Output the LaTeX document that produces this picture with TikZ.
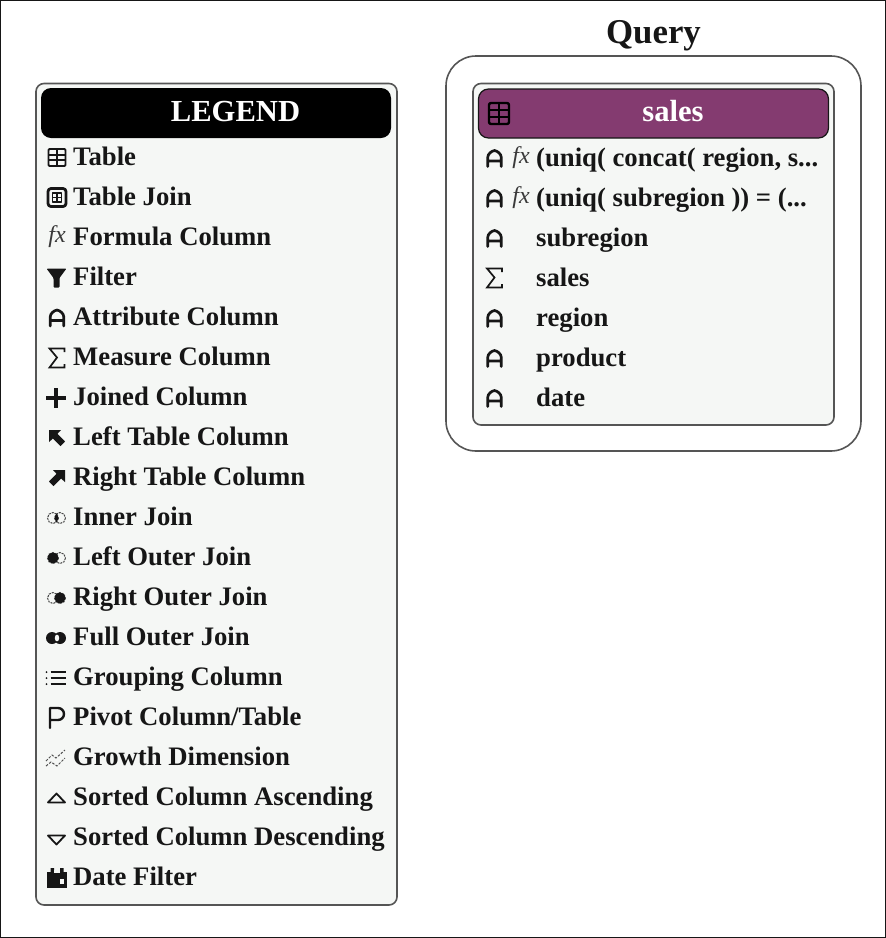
\documentclass[tikz,border=0pt]{standalone}
\usepackage{fontspec}
\setmainfont{Liberation Serif}
\definecolor{panelfill}{HTML}{F5F7F5}
\definecolor{edgegray}{HTML}{555555}
\definecolor{salesplum}{HTML}{843B70}
\definecolor{inkblack}{HTML}{161616}
\tikzset{
  x=1pt,y=-1pt,
  panel/.style={draw=edgegray,line width=1.6pt,fill=panelfill,rounded corners=8pt},
  outerpanel/.style={draw=edgegray,line width=1.6pt,fill=white,rounded corners=30pt},
  headbox/.style={draw=inkblack,line width=1.2pt,rounded corners=10pt},
  rowtext/.style={anchor=base west,inner sep=0pt,font=\fontsize{26.7}{28}\selectfont\bfseries,text=inkblack},
  headtext/.style={anchor=base,inner sep=0pt,font=\fontsize{30.6}{32}\selectfont\bfseries,text=white},
  ico/.style={line width=1.8pt,draw=inkblack,line cap=round,line join=round},
  fxtext/.style={inner sep=0pt,font=\fontsize{24}{24}\selectfont\itshape,text=inkblack!85},
}
% every icon is drawn round its centre (#1,#2)
\newcommand{\icoTable}[2]{\begin{scope}[shift={(#1,#2)}]
  \draw[ico,rounded corners=1pt] (-8.5,-8.5) rectangle (8.5,8.5);
  \draw[ico,line cap=butt] (-8.5,-2.8)--(8.5,-2.8) (-8.5,2.8)--(8.5,2.8) (0,-8.5)--(0,8.5);
\end{scope}}
\newcommand{\icoTableBig}[2]{\begin{scope}[shift={(#1,#2)}]
  \draw[ico,line width=2.4pt,draw=black,rounded corners=2pt] (-10,-10.5) rectangle (10,10.5);
  \draw[ico,line width=1.8pt,draw=black,line cap=butt] (-10,-3.5)--(10,-3.5) (-10,3.5)--(10,3.5) (0,-10.5)--(0,10.5);
\end{scope}}
\newcommand{\icoJoin}[2]{\begin{scope}[shift={(#1,#2)}]
  \draw[ico,line width=2.8pt,rounded corners=3pt] (-9,-9) rectangle (9,9);
  \draw[ico,line width=1.2pt,line cap=butt] (-4.5,-4.5) rectangle (4.5,4.5) (-4.5,0)--(4.5,0) (0,-4.5)--(0,4.5);
\end{scope}}
\newcommand{\icoFx}[2]{\node[fxtext] at (#1,#2) {fx};}
\newcommand{\icoFilter}[2]{\begin{scope}[shift={(#1,#2)}]
  \fill[inkblack,rounded corners=1pt] (-10,-9.5)--(10,-9.5)--(3,0)--(3,9.5)--(-3,9.5)--(-3,0)--cycle;
\end{scope}}
\newcommand{\icoAttr}[2]{\begin{scope}[shift={(#1,#2)}]
  \draw[ico,line width=2.7pt] (-6.8,8)--(-6.8,-1) .. controls (-6.8,-4.5) and (-3,-7.5) .. (0,-8) .. controls (3,-7.5) and (6.8,-4.5) .. (6.8,-1) --(6.8,8) (-6.8,2.5)--(6.8,2.5);
\end{scope}}
\newcommand{\icoSigma}[2]{\begin{scope}[shift={(#1,#2)}]
  \draw[ico,line width=1.7pt,line cap=butt,line join=miter] (7.5,-6)--(7.5,-9.5)--(-7.5,-9.5)--(0,-0.5)--(-7.5,9.5)--(7.5,9.5)--(7.5,6);
\end{scope}}
\newcommand{\icoPlus}[2]{\begin{scope}[shift={(#1,#2)}]
  \draw[ico,line width=3.4pt,line cap=butt] (-10,0)--(10,0) (0,-10)--(0,10);
\end{scope}}
\newcommand{\icoLeftArrow}[2]{\begin{scope}[shift={(#1,#2)}]
  \fill[inkblack] (-8,-8)--(4,-8)--(0.5,-4.2)--(8,3.5)--(3.5,8)--(-4,0.5)--(-8,4)--cycle;
\end{scope}}
\newcommand{\icoRightArrow}[2]{\begin{scope}[shift={(#1,#2)}]
  \fill[inkblack] (8,-8)--(-4,-8)--(-0.5,-4.2)--(-8,3.5)--(-3.5,8)--(4,0.5)--(8,4)--cycle;
\end{scope}}
\newcommand{\icoJoinBase}{\draw[line width=1pt,draw=inkblack!80,dash pattern=on 2pt off 1pt] (-3.5,0) circle[radius=5.5] (3.5,0) circle[radius=5.5];}
\newcommand{\icoInner}[2]{\begin{scope}[shift={(#1,#2)}]
  \icoJoinBase
  \begin{scope}\clip (-3.5,0) circle[radius=5.5]; \fill[inkblack] (3.5,0) circle[radius=5.5]; \end{scope}
\end{scope}}
\newcommand{\icoLeftOuter}[2]{\begin{scope}[shift={(#1,#2)}]
  \icoJoinBase
  \fill[inkblack] (-3.5,0) circle[radius=5.5];
\end{scope}}
\newcommand{\icoRightOuter}[2]{\begin{scope}[shift={(#1,#2)}]
  \icoJoinBase
  \fill[inkblack] (3.5,0) circle[radius=5.5];
\end{scope}}
\newcommand{\icoFull}[2]{\begin{scope}[shift={(#1,#2)}]
  \fill[inkblack] (-4,0) circle[radius=6] (4,0) circle[radius=6];
  \fill[panelfill] (1,0) ellipse[x radius=2.2,y radius=3.4];
\end{scope}}
\newcommand{\icoGroup}[2]{\begin{scope}[shift={(#1,#2)}]
  \draw[ico,line width=1.8pt,line cap=butt] (-5.5,-6)--(10,-6) (-5.5,0)--(10,0) (-5.5,6)--(10,6);
  \fill[inkblack] (-9.5,-6) circle[radius=1] (-9.5,0) circle[radius=1] (-9.5,6) circle[radius=1];
\end{scope}}
\newcommand{\icoPivot}[2]{\begin{scope}[shift={(#1,#2)}]
  \draw[ico,line width=2.4pt] (-7,10)--(-7,-10)--(1,-10) arc[start angle=-90,end angle=90,radius=6]--(-7,2);
\end{scope}}
\newcommand{\icoGrowth}[2]{\begin{scope}[shift={(#1,#2)}]
  \draw[line width=1pt,draw=inkblack!75,dash pattern=on 2.5pt off 1.5pt] (-10,3)--(-4,-3)--(0,0)--(9,-8);
  \draw[line width=1pt,draw=inkblack!75,dash pattern=on 2.5pt off 1.5pt] (-10,8)--(-5,4)--(1,8)--(9,0);
\end{scope}}
\newcommand{\icoUp}[2]{\begin{scope}[shift={(#1,#2)}]
  \draw[ico,line width=1.8pt] (-8.5,4.5)--(0,-4.5)--(8.5,4.5)--cycle;
\end{scope}}
\newcommand{\icoDown}[2]{\begin{scope}[shift={(#1,#2)}]
  \draw[ico,line width=1.8pt] (-8.5,-4.5)--(0,4.5)--(8.5,-4.5)--cycle;
\end{scope}}
\newcommand{\icoDate}[2]{\begin{scope}[shift={(#1,#2)}]
  \fill[inkblack] (-10,-6.5) rectangle (10,9.5);
  \fill[inkblack] (-6.5,-10) rectangle (-3,-5) (3,-10) rectangle (6.5,-5);
  \fill[panelfill] (-3.5,-8.5) rectangle (3,-5.5);
  \fill[panelfill] (2.5,1) rectangle (7,5.5);
\end{scope}}
\begin{document}
\begin{tikzpicture}
\useasboundingbox (0,0) rectangle (886,938);
\draw[line width=1.6pt,draw=inkblack] (0.5,0.5) rectangle (885.5,937.5);
% Legend
\draw[panel] (36,83.5) rectangle (397,905);
\fill[black,rounded corners=10pt] (41,88) rectangle (391,138);
\node[headtext] (legendtitle) at (235.5,121) {LEGEND};
\node[rowtext] (lega) at (73,165.5) {Table};
\node[rowtext] (legb) at (73,205.5) {Table Join};
\node[rowtext] (legc) at (73,245.5) {Formula Column};
\node[rowtext] (legd) at (73,285.5) {Filter};
\node[rowtext] (lege) at (73,325.5) {Attribute Column};
\node[rowtext] (legf) at (73,365.5) {Measure Column};
\node[rowtext] (legg) at (73,405.5) {Joined Column};
\node[rowtext] (legh) at (73,445.5) {Left Table Column};
\node[rowtext] (legi) at (73,485.5) {Right Table Column};
\node[rowtext] (legj) at (73,525.5) {Inner Join};
\node[rowtext] (legk) at (73,565.5) {Left Outer Join};
\node[rowtext] (legl) at (73,605.5) {Right Outer Join};
\node[rowtext] (legm) at (73,645.5) {Full Outer Join};
\node[rowtext] (legn) at (73,685.5) {Grouping Column};
\node[rowtext] (lego) at (73,725.5) {Pivot Column/Table};
\node[rowtext] (legp) at (73,765.5) {Growth Dimension};
\node[rowtext] (legq) at (73,805.5) {Sorted Column Ascending};
\node[rowtext] (legr) at (73,845.5) {Sorted Column Descending};
\node[rowtext] (legs) at (73,885.5) {Date Filter};
\icoTable{57}{157.5}
\icoJoin{57}{197.5}
\icoFx{57}{237}
\icoFilter{56.5}{278}
\icoAttr{57}{318}
\icoSigma{57}{358}
\icoPlus{56}{398}
\icoLeftArrow{57}{438}
\icoRightArrow{57}{478}
\icoInner{56.5}{518}
\icoLeftOuter{56.5}{558}
\icoRightOuter{56.5}{598}
\icoFull{56}{638}
\icoGroup{56}{678}
\icoPivot{57}{718}
\icoGrowth{56}{758}
\icoUp{56.5}{798}
\icoDown{56.5}{840}
\icoDate{57}{878}
% Query
\node[inner sep=0pt,anchor=base,font=\fontsize{34.8}{36}\selectfont\bfseries,text=inkblack] (querytitle) at (653.5,43.5) {Query};
\draw[outerpanel] (446,56) rectangle (861,451);
\draw[panel] (473,83.5) rectangle (834,425);
\filldraw[headbox,fill=salesplum] (478.5,89) rectangle (828.5,138);
\node[headtext] (salestitle) at (673,121) {sales};
\icoTableBig{499}{113.5}
\node[rowtext] (qrya) at (536,166.5) {(uniq( concat( region, s...};
\node[rowtext] (qryb) at (536,206.5) {(uniq( subregion )) = (...};
\node[rowtext] (qryc) at (536,246.5) {subregion};
\node[rowtext] (qryd) at (536,286.5) {sales};
\node[rowtext] (qrye) at (536,326.5) {region};
\node[rowtext] (qryf) at (536,366.5) {product};
\node[rowtext] (qryg) at (536,406.5) {date};
\icoAttr{494.5}{158.5}
\icoFx{521}{158}
\icoAttr{494.5}{198.5}
\icoFx{521}{198}
\icoAttr{494.5}{238.5}
\icoSigma{494.5}{278}
\icoAttr{494.5}{318.5}
\icoAttr{494.5}{358.5}
\icoAttr{494.5}{398.5}
\end{tikzpicture}
\end{document}
